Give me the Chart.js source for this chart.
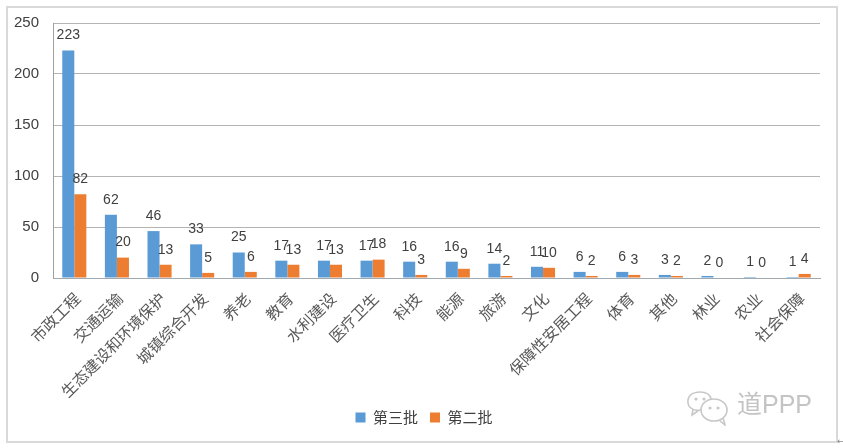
<!DOCTYPE html>
<html>
<head>
<meta charset="utf-8">
<script src="https://cdn.jsdelivr.net/npm/chart.js@4"></script>
<style>
  html, body { margin: 0; padding: 0; background: #fff; }
  .container { position: relative; width: 843px; height: 448px; overflow: hidden; }
  canvas { position: absolute; left: 0; top: 0; }
  .frame {
    position: absolute; left: 6px; top: 6px; width: 828px; height: 433px;
    border: 2px solid #d9d9d9; pointer-events: none;
  }
  .mark {
    position: absolute; left: 737px; top: 384px; color: #c4c4c4;
    font: 25px "Liberation Sans", "Noto Sans CJK SC", sans-serif;
  }
  .icon { position: absolute; left: 686px; top: 390px; }
  .corner { position: absolute; left: 837px; top: 436px; color: #888; font: 9px "DejaVu Sans"; }
</style>
</head>
<body>
<div class="container">
  <canvas id="myChart" width="843" height="448"></canvas>
  <div class="frame"></div>
  <svg class="icon" width="44" height="36" viewBox="0 0 44 36" fill="none" stroke="#c8c8c8" stroke-width="1.6">
    <path d="M16 20 C6 22 1 16 2 10 C3 4 9 2 14 2 C19 2 24 4 25 9"/>
    <path d="M7 19 L6 25 L12 21"/>
    <ellipse cx="28" cy="20" rx="13" ry="11"/>
    <path d="M33 30 L39 35 L37 28"/>
    <circle cx="24" cy="18" r="0.8"/>
    <circle cx="32" cy="18" r="0.8"/>
    <circle cx="10" cy="9" r="0.8"/>
    <circle cx="18" cy="9" r="0.8"/>
  </svg>
  <div class="mark">道PPP</div>
  <div class="corner">←</div>
</div>
<script>
const categories = ["市政工程", "交通运输", "生态建设和环境保护", "城镇综合开发", "养老", "教育", "水利建设", "医疗卫生", "科技", "能源", "旅游", "文化", "保障性安居工程", "体育", "其他", "林业", "农业", "社会保障"];
const thirdBatch = [223, 62, 46, 33, 25, 17, 17, 17, 16, 16, 14, 11, 6, 6, 3, 2, 1, 1];
const secondBatch = [82, 20, 13, 5, 6, 13, 13, 18, 3, 9, 2, 10, 2, 3, 2, 0, 0, 4];

const sansFont = '"Liberation Sans", "Noto Sans CJK SC", sans-serif';

// draws the value above each bar, the way the original office chart does
const valueLabels = {
  id: "valueLabels",
  afterDatasetsDraw(chart) {
    const { ctx } = chart;
    ctx.save();
    ctx.font = "14px " + sansFont;
    ctx.fillStyle = "#404040";
    ctx.textAlign = "center";
    ctx.textBaseline = "middle";
    chart.data.datasets.forEach((ds, i) => {
      chart.getDatasetMeta(i).data.forEach((bar, j) => {
        ctx.fillText(String(ds.data[j]), bar.x, bar.y - 15);
      });
    });
    ctx.restore();
  },
};

// the original legend sits a bit right of the canvas centre
const legendShift = {
  id: "legendShift",
  afterLayout(chart) {
    chart.legend.left += 10;
    chart.legend.right += 10;
    chart.legend.legendHitBoxes.forEach((box) => { box.left += 5; });
  },
};

new Chart(document.getElementById("myChart"), {
  type: "bar",
  data: {
    labels: categories,
    datasets: [
      { label: "第三批", data: thirdBatch, backgroundColor: "#5b9bd5" },
      { label: "第二批", data: secondBatch, backgroundColor: "#ed7d31" },
    ],
  },
  plugins: [valueLabels, legendShift],
  options: {
    responsive: false,
    animation: false,
    layout: { padding: { left: 8, right: 23, top: 21, bottom: 13 } },
    datasets: { bar: { categoryPercentage: 0.565, barPercentage: 1 } },
    scales: {
      y: {
        min: 0,
        max: 250,
        ticks: { stepSize: 50, color: "#404040", font: { size: 15, family: sansFont }, padding: 14 },
        grid: { color: "#b4b4b4", lineWidth: 1, drawTicks: false },
        border: { color: "#a0a0a0" },
        afterFit: (s) => { s.width = 45; },
      },
      x: {
        ticks: {
          minRotation: 45,
          maxRotation: 45,
          autoSkip: false,
          color: "#595959",
          font: { size: 15.5, family: '"Noto Sans CJK SC", sans-serif' },
          padding: 11,
          labelOffset: 3,
        },
        grid: { display: false, drawTicks: false },
        border: { color: "#a0a8b0" },
        afterFit: (s) => { s.height = 120; },
      },
    },
    plugins: {
      tooltip: { enabled: false },
      legend: {
        position: "bottom",
        labels: {
          boxWidth: 10,
          boxHeight: 10,
          padding: 12,
          color: "#404040",
          font: { size: 15, family: '"Noto Sans CJK SC", sans-serif' },
        },
      },
    },
  },
});
</script>
</body>
</html>
